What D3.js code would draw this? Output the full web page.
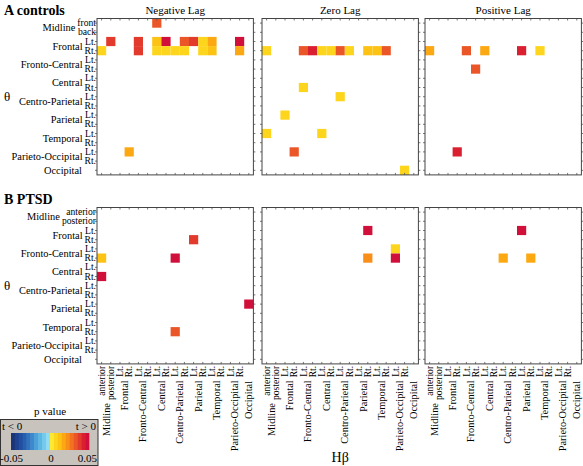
<!DOCTYPE html>
<html><head><meta charset="utf-8">
<script src="https://cdn.jsdelivr.net/npm/d3@7"></script>
<style>
body{margin:0;background:#fff;}
svg{display:block;font-family:"Liberation Serif","Times New Roman",serif;}
</style></head>
<body><svg id="c" width="583" height="466"></svg>
<script>
// ---- categories ----
const channels = ["M1","M2","F-Lt","F-Rt","FC-Lt","FC-Rt","C-Lt","C-Rt","CP-Lt","CP-Rt","P-Lt","P-Rt","T-Lt","T-Rt","PO-Lt","PO-Rt","O"];
const groupNames = ["Midline","Frontal","Fronto-Central","Central","Centro-Parietal","Parietal","Temporal","Parieto-Occipital","Occipital"];
const midlineSubsA = ["front","back"];
const midlineSubsB = ["anterior","posterior"];
const sideSubs = ["Lt.","Rt."];
const lagTitles = ["Negative Lag","Zero Lag","Positive Lag"];
const groupTitles = ["A controls","B PTSD"];
const cbTicks = ["-0.05","0","0.05"];
// colour bar bins (p value, signed by t)
const blueBins = ["#1b3577","#1f4290","#234fa0","#2860b0","#2f74c0","#3a8ad0","#48a2dc","#5ab8e6","#70cbee","#90dcf4"];
const warmBins = ["#fee832","#fdd51c","#fcc214","#fca812","#f98e18","#f27222","#ea5628","#e23a2c","#da2030","#d0103a"];

// ---- data: [theta channel, Hbeta channel, p] ----
const controlsNeg = [
 ["M1","C-Lt",0.032],
 ["F-Lt","M2",0.037],["F-Lt","FC-Lt",0.037],["F-Lt","C-Lt",0.012],["F-Lt","C-Rt",0.048],["F-Lt","CP-Rt",0.032],
 ["F-Lt","P-Lt",0.037],["F-Lt","P-Rt",0.007],["F-Lt","T-Lt",0.017],["F-Lt","PO-Rt",0.048],
 ["F-Rt","M1",0.007],["F-Rt","FC-Lt",0.037],["F-Rt","C-Lt",0.007],["F-Rt","C-Rt",0.007],["F-Rt","CP-Lt",0.007],
 ["F-Rt","CP-Rt",0.007],["F-Rt","P-Rt",0.007],["F-Rt","T-Lt",0.012],["F-Rt","PO-Rt",0.017],
 ["PO-Lt","F-Rt",0.017]
];
const controlsZero = [
 ["F-Rt","M1",0.007],["F-Rt","FC-Lt",0.032],["F-Rt","FC-Rt",0.042],["F-Rt","C-Lt",0.007],["F-Rt","C-Rt",0.007],
 ["F-Rt","CP-Lt",0.032],["F-Rt","CP-Rt",0.007],["F-Rt","P-Rt",0.012],["F-Rt","T-Lt",0.012],["F-Rt","T-Rt",0.032],
 ["C-Rt","FC-Lt",0.007],["CP-Lt","CP-Lt",0.007],["P-Lt","F-Lt",0.007],
 ["T-Lt","M1",0.007],["T-Lt","C-Lt",0.007],["PO-Lt","F-Rt",0.032],["O","PO-Rt",0.007]
];
const controlsPos = [
 ["F-Rt","M1",0.017],["F-Rt","FC-Lt",0.032],["F-Rt","C-Lt",0.017],["F-Rt","P-Lt",0.042],["F-Rt","T-Lt",0.007],
 ["FC-Rt","FC-Rt",0.032],["PO-Lt","F-Rt",0.042]
];
const ptsdNeg = [
 ["F-Rt","P-Lt",0.037],["FC-Rt","M1",0.012],["FC-Rt","CP-Lt",0.048],["C-Rt","M1",0.048],
 ["P-Lt","O",0.048],["T-Rt","CP-Lt",0.032]
];
const ptsdZero = [
 ["F-Lt","P-Rt",0.045],["FC-Lt","PO-Lt",0.007],["FC-Rt","P-Rt",0.022],["FC-Rt","PO-Lt",0.048]
];
const ptsdPos = [
 ["F-Lt","P-Lt",0.045],["FC-Rt","CP-Lt",0.017],["FC-Rt","P-Rt",0.017]
];

// ---- layout ----
const svg = d3.select("#c");
const panelX = [97, 262, 425];
const panelY = [18.5, 207.5];
const size = 156.4;
const fs = 10.4, fsSub = 9.6;

const x = d3.scaleBand().domain(channels).range([0, size]);
const y = d3.scaleBand().domain(channels).range([0, size]);
const color = d3.scaleQuantize().domain([-0.05, 0.05]).range(blueBins.concat(warmBins));

function subsFor(gi, midSubs){ return gi===0 ? midSubs : (gi===8 ? [] : sideSubs); }
function chansFor(gi){ return gi===8 ? [channels[16]] : [channels[2*gi], channels[2*gi+1]]; }

const dataSets = [[controlsNeg, controlsZero, controlsPos],[ptsdNeg, ptsdZero, ptsdPos]];

dataSets.forEach((row, ri) => {
  const midSubs = ri===0 ? midlineSubsA : midlineSubsB;
  row.forEach((cells, pi) => {
    const g = svg.append("g").attr("transform", `translate(${panelX[pi]},${panelY[ri]})`);
    g.append("rect").attr("width", size).attr("height", size).attr("fill", "#fff");
    g.selectAll("rect.cell").data(cells).join("rect").attr("class","cell")
      .attr("x", d => x(d[1])).attr("y", d => y(d[0]))
      .attr("width", x.bandwidth()).attr("height", y.bandwidth())
      .attr("fill", d => color(d[2]));
    // ticks
    const tk = g.append("g").attr("stroke", "#555").attr("stroke-width", 0.8);
    channels.forEach(c => {
      const cx = x(c) + x.bandwidth()/2, cy = y(c) + y.bandwidth()/2;
      tk.append("line").attr("x1", cx).attr("x2", cx).attr("y1", 0).attr("y2", 2);
      tk.append("line").attr("x1", cx).attr("x2", cx).attr("y1", size).attr("y2", size-2);
      tk.append("line").attr("y1", cy).attr("y2", cy).attr("x1", 0).attr("x2", -2);
      tk.append("line").attr("y1", cy).attr("y2", cy).attr("x1", size).attr("x2", size+2);
    });
    g.append("rect").attr("width", size).attr("height", size).attr("fill", "none")
      .attr("stroke", "#444").attr("stroke-width", 1);
    if (ri===0) {
      svg.append("text").attr("x", panelX[pi] + size/2).attr("y", 14).attr("text-anchor","middle")
        .attr("font-size", 11).text(lagTitles[pi]);
    }
    // x axis labels (PTSD only)
    if (ri===1) {
      const xa = g.append("g").attr("transform", `translate(0,${size})`);
      groupNames.forEach((gn, gi) => {
        const subs = subsFor(gi, midSubs), chs = chansFor(gi);
        let maxW = 0;
        subs.forEach((s, si) => {
          const cx = x(chs[si]) + x.bandwidth()/2;
          const t = xa.append("text").attr("transform", `translate(${cx},2) rotate(-90)`)
            .attr("text-anchor","end").attr("dy","0.33em").attr("font-size", fsSub).text(s);
          maxW = Math.max(maxW, t.node().getComputedTextLength());
        });
        if (gi===8) maxW = 12;
        const cx = d3.mean(chs, c => x(c) + x.bandwidth()/2);
        xa.append("text").attr("transform", `translate(${cx},${2 + maxW + 3}) rotate(-90)`)
          .attr("text-anchor","end").attr("dy","0.33em").attr("font-size", fs).text(gn);
      });
    }
  });
  // y axis labels (left panel)
  const ya = svg.append("g").attr("transform", `translate(${panelX[0]},${panelY[ri]})`);
  groupNames.forEach((gn, gi) => {
    const subs = subsFor(gi, midSubs), chs = chansFor(gi);
    let maxW = 0;
    subs.forEach((s, si) => {
      const cy = y(chs[si]) + y.bandwidth()/2;
      const t = ya.append("text").attr("x", -1).attr("y", cy).attr("dy","0.33em")
        .attr("text-anchor","end").attr("font-size", fsSub).text(s);
      maxW = Math.max(maxW, t.node().getComputedTextLength());
    });
    if (gi===8) maxW = 12;
    const cy = d3.mean(chs, c => y(c) + y.bandwidth()/2);
    ya.append("text").attr("x", -1 - maxW - 2).attr("y", cy).attr("dy","0.33em")
      .attr("text-anchor","end").attr("font-size", fs).text(gn);
  });
  svg.append("text").attr("x", 7).attr("y", panelY[ri] + size/2).attr("dy","0.35em")
    .attr("text-anchor","middle").attr("font-size", 13).text("θ");
  svg.append("text").attr("x", 4).attr("y", ri===0 ? 15 : 204).attr("font-size", 14)
    .attr("font-weight","bold").text(groupTitles[ri]);
});

svg.append("text").attr("x", panelX[1] + size/2).attr("y", 462).attr("text-anchor","middle")
  .attr("font-size", 14).text("Hβ");

// ---- colour bar legend ----
svg.append("text").attr("x", 50).attr("y", 415).attr("text-anchor","middle").attr("font-size", 11).text("p value");
svg.append("rect").attr("x", 0.5).attr("y", 419.5).attr("width", 97.5).attr("height", 46)
  .attr("fill", "#c8c3bc").attr("stroke", "#333").attr("stroke-width", 1);
svg.append("text").attr("x", 2).attr("y", 430).attr("font-size", 11).text("t < 0");
svg.append("text").attr("x", 96).attr("y", 430).attr("text-anchor","end").attr("font-size", 11).text("t > 0");
const cbx = d3.scaleLinear().domain([-0.05, 0.05]).range([11, 89]);
const bins = blueBins.concat(warmBins);
svg.selectAll("rect.cb").data(bins).join("rect").attr("class","cb")
  .attr("x", (d,i) => cbx(-0.05 + i*0.005)).attr("y", 433)
  .attr("width", (cbx(0.05)-cbx(-0.05))/bins.length + 0.3).attr("height", 17)
  .attr("fill", d => d);
svg.append("text").attr("x", 0).attr("y", 462).attr("font-size", 11).text(cbTicks[0]);
svg.append("text").attr("x", cbx(0)+1).attr("y", 462).attr("text-anchor","middle").attr("font-size", 11).text(cbTicks[1]);
svg.append("text").attr("x", 97).attr("y", 462).attr("text-anchor","end").attr("font-size", 11).text(cbTicks[2]);
</script></body></html>
